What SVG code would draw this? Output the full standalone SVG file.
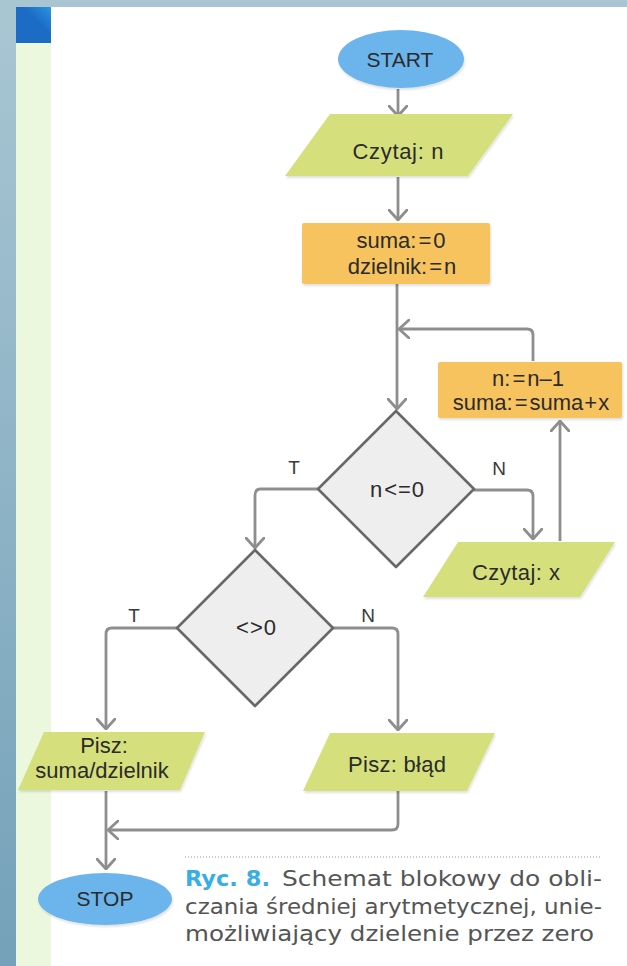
<svg xmlns="http://www.w3.org/2000/svg" width="627" height="966" viewBox="0 0 627 966">
<defs>
<linearGradient id="side" x1="0" y1="0" x2="0" y2="1">
<stop offset="0" stop-color="#a9c6d3"/>
<stop offset="1" stop-color="#74a1b9"/>
</linearGradient>
<linearGradient id="sq" x1="0" y1="1" x2="1" y2="0">
<stop offset="0.6" stop-color="#1c6cc6"/>
<stop offset="1" stop-color="#2b93e2"/>
</linearGradient>
<marker id="arr" viewBox="0 0 12 20" refX="11" refY="10" markerWidth="12" markerHeight="20" markerUnits="userSpaceOnUse" orient="auto">
<path d="M1,1 L11,10 L1,19" fill="none" stroke="#8e8e8e" stroke-width="2.8" stroke-linecap="round" stroke-linejoin="round"/>
</marker>
<filter id="sh" x="-10%" y="-10%" width="120%" height="130%">
<feDropShadow dx="1" dy="2" stdDeviation="1.2" flood-color="#000" flood-opacity="0.12"/>
</filter>
</defs>
<style>
.t{font-family:"Liberation Sans",Arial,sans-serif;font-size:22px;fill:#2b2b2b;text-anchor:middle}
.tc{font-family:"Liberation Sans",Arial,sans-serif;font-size:21px;fill:#2b2b2b;text-anchor:middle}
.lbl{font-family:"Liberation Sans",Arial,sans-serif;font-size:19px;fill:#3a3a3a;text-anchor:middle}
.io{fill:#d5e07c;filter:url(#sh)}
.proc{fill:#f7c35f;filter:url(#sh)}
.term{fill:#6cb5ec;filter:url(#sh)}
.dec{fill:#eeeeee;stroke:#686868;stroke-width:2.6;stroke-linejoin:round}
.c{fill:none;stroke:#8e8e8e;stroke-width:2.8;stroke-linejoin:round}
.cap{font-family:"DejaVu Sans Condensed","Liberation Sans Narrow","Open Sans",sans-serif;font-size:21px;fill:#555}
.capb{font-family:"DejaVu Sans Condensed","Liberation Sans Narrow","Open Sans",sans-serif;font-size:21px;font-weight:bold;fill:#38aee2}
</style>
<rect x="0" y="0" width="627" height="966" fill="#ffffff"/>
<g id="frame">
<rect x="0" y="0" width="16" height="966" fill="url(#side)"/>
<rect x="0" y="0" width="627" height="7" fill="#a9c5d1"/>
<rect x="16" y="43" width="35" height="923" fill="#ebf8dd"/>
<rect x="16" y="7" width="35" height="36" fill="url(#sq)"/>
</g>
<g id="connectors">
<line class="c" x1="398" y1="89" x2="398" y2="116" marker-end="url(#arr)"/>
<line class="c" x1="398" y1="177" x2="398" y2="220" marker-end="url(#arr)"/>
<line class="c" x1="397" y1="284" x2="397" y2="409" marker-end="url(#arr)"/>
<path class="c" d="M533,361 V335 Q533,329 527,329 H399" marker-end="url(#arr)"/>
<path class="c" d="M474,490 H527 Q533,490 533,496 V539" marker-end="url(#arr)"/>
<line class="c" x1="560" y1="541" x2="560" y2="421" marker-end="url(#arr)"/>
<path class="c" d="M318,489 H261 Q255,489 255,495 V548" marker-end="url(#arr)"/>
<path class="c" d="M177,628 H112 Q106,628 106,634 V729" marker-end="url(#arr)"/>
<path class="c" d="M333,628 H392 Q398,628 398,634 V730" marker-end="url(#arr)"/>
<path class="c" d="M398,791 V824 Q398,830 392,830 H108" marker-end="url(#arr)"/>
<line class="c" x1="106" y1="791" x2="106" y2="869" marker-end="url(#arr)"/>
</g>
<g id="start">
<ellipse class="term" cx="401" cy="59" rx="63" ry="29"/>
<text class="tc" x="400" y="67">START</text>
</g>
<g id="read-n">
<polygon class="io" points="330,114 513,114 468,176 285,176"/>
<text class="t" x="398" y="159" textLength="91" lengthAdjust="spacing">Czytaj: n</text>
</g>
<g id="init">
<rect class="proc" x="302" y="223" width="188" height="61" rx="2"/>
<text class="t" x="401" y="248">suma:<tspan dx="2">=</tspan><tspan dx="2">0</tspan></text>
<text class="t" x="402" y="274">dzielnik:<tspan dx="2">=</tspan><tspan dx="2">n</tspan></text>
</g>
<g id="update">
<rect class="proc" x="438" y="362" width="184" height="56" rx="2"/>
<text class="t" x="528" y="386">n:<tspan dx="2">=</tspan><tspan dx="2">n–1</tspan></text>
<text class="t" x="531" y="410">suma:<tspan dx="2">=</tspan><tspan dx="2">suma</tspan><tspan dx="1">+</tspan><tspan dx="1">x</tspan></text>
</g>
<g id="cond1">
<path class="dec" d="M396,411 L474,489 L396,567 L318,489 Z"/>
<text class="t" x="397" y="497">n<tspan dx="2">&lt;</tspan><tspan dx="1">=</tspan><tspan dx="1">0</tspan></text>
<text class="lbl" x="294" y="474">T</text>
<text class="lbl" x="499" y="475">N</text>
</g>
<g id="read-x">
<polygon class="io" points="458,542 615,542 580,597 423,597"/>
<text class="t" x="516" y="580" textLength="88" lengthAdjust="spacing">Czytaj: x</text>
</g>
<g id="cond2">
<path class="dec" d="M255,550 L333,628 L255,706 L177,628 Z"/>
<text class="t" x="256" y="635">&lt;<tspan dx="1">&gt;</tspan><tspan dx="1">0</tspan></text>
<text class="lbl" x="134" y="622">T</text>
<text class="lbl" x="368" y="622">N</text>
</g>
<g id="write-avg">
<polygon class="io" points="44,732 205,732 180,790 18,790"/>
<text class="t" x="104" y="753">Pisz:</text>
<text class="t" x="102" y="778">suma/dzielnik</text>
</g>
<g id="write-err">
<polygon class="io" points="330,733 495,733 467,791 303,791"/>
<text class="t" x="397" y="772" textLength="98" lengthAdjust="spacing">Pisz: błąd</text>
</g>
<g id="stop">
<ellipse class="term" cx="105" cy="899" rx="67" ry="26"/>
<text class="tc" x="105" y="906">STOP</text>
</g>
<g id="caption">
<line x1="185" y1="857" x2="602" y2="857" stroke="#999" stroke-width="1" stroke-dasharray="1,2"/>
<text class="capb" x="185" y="886" textLength="85" lengthAdjust="spacingAndGlyphs">Ryc. 8.</text>
<text class="cap" x="282" y="886" textLength="320" lengthAdjust="spacingAndGlyphs">Schemat blokowy do obli-</text>
<text class="cap" x="185" y="914" textLength="417" lengthAdjust="spacingAndGlyphs">czania średniej arytmetycznej, unie-</text>
<text class="cap" x="185" y="941" textLength="409" lengthAdjust="spacingAndGlyphs">możliwiający dzielenie przez zero</text>
</g>
</svg>
